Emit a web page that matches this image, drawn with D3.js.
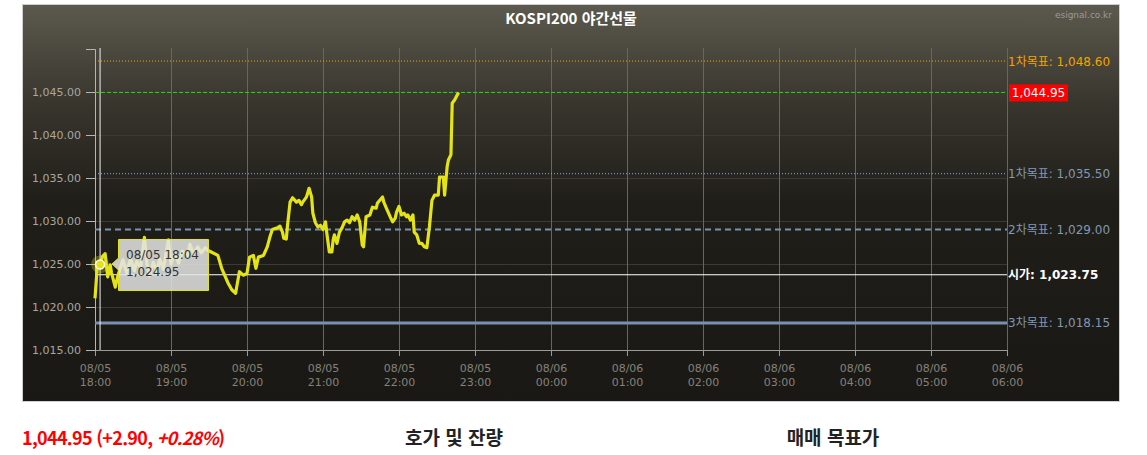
<!DOCTYPE html>
<html lang="ko">
<head>
<meta charset="UTF-8">
<title>KOSPI200 야간선물</title>
<script src="https://d3js.org/d3.v7.min.js"></script>
<style>
  body { margin: 0; background: #fff; }
  svg { display: block; }
</style>
</head>
<body>
<svg id="chart" width="1147" height="455"></svg>
<script>
// ---- data ----
const chartTitle = "KOSPI200 야간선물";
const sessionDay = "2024-08-05";

const times = [
  "18:00","18:02","18:04","18:06","18:08","18:10","18:12","18:13","18:16","18:18",
  "18:22","18:25","18:28","18:31","18:33","18:36","18:39","18:41","18:43","18:46",
  "18:49","18:51","18:54","18:58","19:00","19:03","19:06","19:09","19:13","19:15",
  "19:18","19:21","19:24","19:27","19:29","19:37","19:40","19:45","19:48","19:51",
  "19:54","19:57","20:00","20:02","20:05","20:07","20:09","20:13","20:16","20:18",
  "20:20","20:24","20:26","20:28","20:29","20:31","20:32","20:34","20:36","20:39",
  "20:41","20:43","20:44","20:47","20:49","20:51","20:52","20:54","20:56","20:58",
  "21:00","21:02","21:03","21:05","21:07","21:08","21:09","21:11","21:13","21:15",
  "21:17","21:19","21:21","21:23","21:25","21:27","21:29","21:31","21:32","21:34",
  "21:37","21:39","21:42","21:43","21:47","21:48","21:50","21:53","21:55","21:57",
  "21:58","22:00","22:02","22:04","22:06","22:07","22:09","22:11","22:12","22:14",
  "22:16","22:18","22:20","22:22","22:24","22:26","22:28","22:31","22:32","22:35",
  "22:36","22:38","22:39","22:41","22:42","22:44","22:47"
];
const prices = [
  1021.0,1025.1,1024.95,1025.9,1026.2,1023.5,1024.9,1024.0,1022.3,1023.6,
  1025.5,1024.0,1025.6,1024.2,1025.3,1024.6,1028.1,1025.0,1023.6,1025.2,
  1024.1,1025.6,1024.4,1027.8,1025.0,1026.4,1025.1,1026.5,1026.0,1027.3,
  1026.1,1027.0,1026.3,1026.9,1026.6,1026.0,1024.5,1022.8,1022.0,1021.6,
  1024.1,1023.7,1023.9,1025.8,1026.0,1024.5,1025.8,1026.0,1027.0,1028.1,
  1029.0,1029.2,1029.4,1028.7,1028.0,1027.9,1029.5,1032.2,1032.7,1032.2,
  1032.4,1031.9,1032.2,1032.8,1033.8,1032.8,1030.9,1029.8,1029.3,1029.5,
  1029.0,1029.9,1028.6,1026.4,1026.4,1027.8,1028.4,1027.4,1028.7,1029.2,
  1029.9,1030.1,1029.8,1030.5,1030.1,1030.7,1029.9,1027.2,1027.0,1030.5,
  1030.7,1031.6,1031.5,1032.1,1032.8,1032.2,1031.5,1030.5,1029.9,1030.3,
  1031.0,1031.7,1030.7,1030.9,1030.5,1030.7,1030.1,1030.7,1028.7,1028.4,
  1027.4,1027.4,1027.0,1026.9,1029.3,1032.4,1033.0,1033.0,1035.1,1035.1,
  1033.0,1036.3,1037.1,1037.7,1043.7,1044.1,1044.95
];

const yTicks = [1015, 1020, 1025, 1030, 1035, 1040, 1045, 1050];
const levelNames  = ["1차목표", "현재가", "1차목표", "2차목표", "시가", "3차목표"];
const levelValues = [1048.60, 1044.95, 1035.50, 1029.00, 1023.75, 1018.15];

const hoverTime = "18:04";
const hoverValue = 1024.95;

const lastPrice = 1044.95, change = 2.90, changePct = 0.28;
const sectionTitles = ["호가 및 잔량", "매매 목표가"];

// ---- setup ----
const width = 1147, height = 455;
const plot = { left: 95, right: 1007, top: 49, bottom: 350 };
const numFont = "'DejaVu Sans', 'Noto Sans CJK KR', sans-serif";
const krFont = "'Noto Sans CJK KR', 'Noto Sans', sans-serif";

const svg = d3.select("#chart");
const parse = d3.timeParse("%Y-%m-%d %H:%M");
const toDate = t => {
  const d = parse(sessionDay + " " + t);
  if (+t.slice(0, 2) < 12) d.setDate(d.getDate() + 1);
  return d;
};
const data = times.map((t, i) => ({ date: toDate(t), value: prices[i] }));

const x = d3.scaleTime()
  .domain([toDate("18:00"), toDate("06:00")])
  .range([plot.left, plot.right]);
const y = d3.scaleLinear()
  .domain([1015, 1050])
  .range([plot.bottom, plot.top]);

// panel background
const defs = svg.append("defs");
const grad = defs.append("linearGradient").attr("id", "bg")
  .attr("x1", 0).attr("y1", 0).attr("x2", 0).attr("y2", 1);
grad.append("stop").attr("offset", "0%").attr("stop-color", "#5c5a4e");
grad.append("stop").attr("offset", "25%").attr("stop-color", "#38352d");
grad.append("stop").attr("offset", "50%").attr("stop-color", "#201e19");
grad.append("stop").attr("offset", "100%").attr("stop-color", "#1a1814");

svg.append("rect")
  .attr("x", 22.5).attr("y", 4.5).attr("width", 1097).attr("height", 397)
  .attr("fill", "url(#bg)").attr("stroke", "#cfcfcf");

svg.append("text")
  .attr("x", 571).attr("y", 24)
  .attr("text-anchor", "middle")
  .attr("fill", "#fff")
  .style("font-family", krFont).style("font-size", "15px").style("font-weight", "bold")
  .text(chartTitle);

svg.append("text")
  .attr("x", 1112).attr("y", 18)
  .attr("text-anchor", "end")
  .attr("fill", "#9a9a9a")
  .style("font-family", numFont).style("font-size", "9px")
  .text("esignal.co.kr");

// grid
svg.append("g")
  .selectAll("line").data(yTicks.filter(v => v > 1015 && v < 1050)).join("line")
  .attr("x1", plot.left).attr("x2", plot.right)
  .attr("y1", d => y(d) + 0.5).attr("y2", d => y(d) + 0.5)
  .attr("stroke", "#3c3a35");

const hourTicks = x.ticks(d3.timeHour.every(1));
svg.append("g")
  .selectAll("line").data(hourTicks.slice(1)).join("line")
  .attr("x1", d => x(d) + 0.5).attr("x2", d => x(d) + 0.5)
  .attr("y1", plot.top - 1).attr("y2", plot.bottom)
  .attr("stroke", "#686660");

// x axis
const xAxis = svg.append("g")
  .attr("transform", `translate(0,${plot.bottom})`)
  .call(d3.axisBottom(x).tickValues(hourTicks).tickSize(6).tickFormat(""));
xAxis.select(".domain").attr("stroke", "#9a9a9a");
xAxis.selectAll(".tick line").attr("stroke", "#9a9a9a");
const xl = xAxis.selectAll(".tick").append("text")
  .attr("fill", "#84827b")
  .attr("text-anchor", "middle")
  .style("font-family", numFont).style("font-size", "11px");
xl.append("tspan").attr("x", 0).attr("y", 22).text(d => d3.timeFormat("%m/%d")(d));
xl.append("tspan").attr("x", 0).attr("y", 36).text(d => d3.timeFormat("%H:%M")(d));

// y axis
const yAxis = svg.append("g")
  .attr("transform", `translate(${plot.left},0)`)
  .call(d3.axisLeft(y).tickValues(yTicks).tickSize(9).tickPadding(5)
    .tickFormat(d => d === 1050 ? "" : d3.format(",.2f")(d)));
yAxis.select(".domain").attr("stroke", "#b5b5b5");
yAxis.selectAll(".tick line").attr("stroke", "#b5b5b5");
yAxis.selectAll(".tick text")
  .attr("fill", "#a9a7a0")
  .style("font-family", numFont).style("font-size", "11px");

// level lines
const levelStyle = [
  { stroke: "#f5a300", w: 1, dash: "1,2", label: "#f5a300" },
  { stroke: "#22e000", w: 1, dash: "4,2", label: "#fff" },
  { stroke: "#8aa8e6", w: 1, dash: "1,2", label: "#8298b2" },
  { stroke: "#7891b0", w: 2, dash: "6,4", label: "#8298b2" },
  { stroke: "#ffffff", w: 1, dash: null, label: "#ffffff" },
  { stroke: "#7891b0", w: 3, dash: null, label: "#7d98b8" }
];
levelValues.forEach((v, i) => {
  const s = levelStyle[i];
  svg.append("line")
    .attr("x1", plot.left).attr("x2", plot.right)
    .attr("y1", y(v)).attr("y2", y(v))
    .attr("stroke", s.stroke).attr("stroke-width", s.w)
    .attr("stroke-dasharray", s.dash);
  if (i === 1) {
    svg.append("rect")
      .attr("x", 1009).attr("y", y(v) - 8).attr("width", 59).attr("height", 17)
      .attr("fill", "#ff0000");
    svg.append("text")
      .attr("x", 1038.5).attr("y", y(v) + 4.5)
      .attr("text-anchor", "middle").attr("fill", "#fff")
      .style("font-family", numFont).style("font-size", "12px")
      .text(d3.format(",.2f")(v));
  } else {
    svg.append("text")
      .attr("x", 1008).attr("y", y(v) + 4.5)
      .attr("fill", s.label)
      .style("font-family", numFont).style("font-size", "12px")
      .style("font-weight", i === 4 ? "bold" : "normal")
      .text(levelNames[i] + ": " + d3.format(",.2f")(v));
  }
});

// crosshair
const hx = x(toDate(hoverTime));
svg.append("line")
  .attr("x1", hx).attr("x2", hx).attr("y1", plot.top - 1).attr("y2", plot.bottom)
  .attr("stroke", "#f2f2f2").attr("stroke-width", 1);

// price line
svg.append("path")
  .datum(data)
  .attr("fill", "none")
  .attr("stroke", "#e3e316")
  .attr("stroke-width", 3.2)
  .attr("stroke-linejoin", "round")
  .attr("d", d3.line().x(d => x(d.date)).y(d => y(d.value)));

// hover marker + tooltip
const hy = y(hoverValue);
svg.append("circle").attr("cx", hx).attr("cy", hy).attr("r", 9)
  .attr("fill", "#e3e316").attr("opacity", 0.3);
svg.append("circle").attr("cx", hx).attr("cy", hy).attr("r", 4.5)
  .attr("fill", "#e3e316").attr("stroke", "#fff").attr("stroke-width", 1.5);

const tip = svg.append("g").attr("transform", "translate(118,239)");
tip.append("path")
  .attr("d", "M0.5,0.5 H90.5 V51.5 H0.5 V31 L-6,25 L0.5,19 Z")
  .attr("fill", "#e4e4e4").attr("fill-opacity", 0.86)
  .attr("stroke", "#e3e316").attr("stroke-width", 1);
tip.append("text").attr("x", 8).attr("y", 20)
  .attr("fill", "#333")
  .style("font-family", numFont).style("font-size", "12px")
  .text(d3.timeFormat("%m/%d %H:%M")(toDate(hoverTime)));
tip.append("text").attr("x", 8).attr("y", 37)
  .attr("fill", "#333")
  .style("font-family", numFont).style("font-size", "12px")
  .text(d3.format(",.2f")(hoverValue));

// bottom summary
const summary = svg.append("text")
  .attr("x", 22).attr("y", 445)
  .attr("fill", "#ff0000")
  .style("font-family", krFont).style("font-size", "18px").style("font-weight", "bold")
  .style("letter-spacing", "-0.7px");
summary.append("tspan").text(`${d3.format(",.2f")(lastPrice)} (+${change.toFixed(2)}, `);
summary.append("tspan").style("font-style", "italic").text(`+${changePct.toFixed(2)}%`);
summary.append("tspan").text(")");

[454, 833].forEach((cx, i) => {
  svg.append("text")
    .attr("x", cx).attr("y", 445)
    .attr("text-anchor", "middle")
    .attr("fill", "#222")
    .style("font-family", krFont).style("font-size", "19px").style("font-weight", "bold")
    .text(sectionTitles[i]);
});
</script>
</body>
</html>
